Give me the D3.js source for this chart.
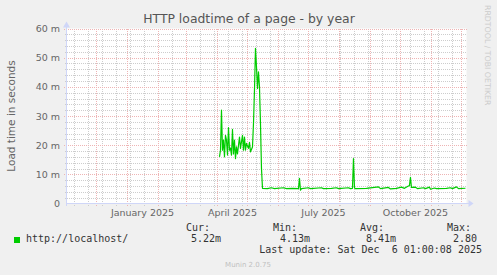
<!DOCTYPE html>
<html>
<head>
<meta charset="utf-8">
<script src="https://cdn.jsdelivr.net/npm/d3@7"></script>
<style>
  body { margin: 0; background: #f0f0f0; }
  svg { display: block; }
</style>
</head>
<body>
<div id="chart"></div>
<script>
// data (load time in milliseconds)
var pointDates = [
  "2025-04-03","2025-04-04","2025-04-05","2025-04-06","2025-04-07","2025-04-08","2025-04-09","2025-04-10",
  "2025-04-11","2025-04-12","2025-04-13","2025-04-14","2025-04-15","2025-04-16","2025-04-17","2025-04-18",
  "2025-04-19","2025-04-20","2025-04-21","2025-04-23","2025-04-24","2025-04-26","2025-04-27","2025-04-28",
  "2025-04-29","2025-04-30","2025-05-02","2025-05-03","2025-05-04","2025-05-06","2025-05-07","2025-05-08",
  "2025-05-09","2025-05-10","2025-05-11","2025-05-12","2025-05-13","2025-05-14","2025-05-15","2025-05-16",
  "2025-05-21","2025-05-25","2025-05-28","2025-06-06","2025-06-09","2025-06-15","2025-06-21","2025-06-22",
  "2025-06-23","2025-06-24","2025-07-01","2025-07-03","2025-07-14","2025-07-16","2025-07-24","2025-07-29",
  "2025-07-31","2025-08-10","2025-08-12","2025-08-14","2025-08-15","2025-08-16","2025-08-17","2025-08-28",
  "2025-09-09","2025-09-11","2025-09-19","2025-09-21","2025-09-27","2025-10-02","2025-10-05","2025-10-08",
  "2025-10-10","2025-10-11","2025-10-12","2025-10-16","2025-10-18","2025-10-24","2025-10-26","2025-10-30",
  "2025-10-31","2025-11-04","2025-11-06","2025-11-16","2025-11-20","2025-11-22","2025-11-26","2025-11-28",
  "2025-12-05"
];
var loadMs = [
  16, 18.3, 32, 18.3, 21.7, 16, 23.4, 21.7,
  16.6, 26, 18.3, 19, 16.6, 25.4, 17, 21.7,
  15.4, 19.4, 17, 22.8, 18.9, 23.4, 18.3, 22.8,
  18.3, 20.6, 18.9, 21, 17.7, 19.4, 27.4, 38.9,
  53.2, 46.9, 39.4, 45.1, 40, 27.4, 12, 5.2,
  5.1, 5.4, 5.1, 5.4, 5.1, 5.2, 5.1, 8.6,
  4.6, 5.1, 5.4, 5.1, 5.4, 5.1, 5.2, 5.4,
  5.1, 5.4, 5.1, 5.2, 15.4, 5.3, 5.1, 5.2,
  5.7, 5.1, 5.5, 5.0, 5.2, 5.6, 5.2, 5.8,
  6.2, 9.0, 5.5, 5.6, 5.1, 5.4, 5.1, 5.6,
  4.9, 5.3, 5.1, 5.2, 5.4, 5.1, 5.7, 5.1,
  5.22
];
var yTicks = [0, 10, 20, 30, 40, 50, 60];
var monthLabels = ["January 2025", "April 2025", "July 2025", "October 2025"];
var monthLabelDates = ["2025-01-16", "2025-04-16", "2025-07-16", "2025-10-16"];
var legendStats = [["Cur:", "5.22m"], ["Min:", "4.13m"], ["Avg:", "8.41m"], ["Max:", "2.80"]];

var svgWidth = 497;
var svgHeight = 275;
var plot = { left: 66.5, right: 466.5, top: 28.5, bottom: 203.5 };

var parseDate = d3.utcParse("%Y-%m-%d");
var series = pointDates.map(function(d, i) {
  return { date: parseDate(d), value: loadMs[i] };
});

var xScale = d3.scaleUtc()
  .domain([new Date(Date.UTC(2024, 10, 1)), new Date(Date.UTC(2025, 11, 6, 1))])
  .range([plot.left, plot.right]);
var yScale = d3.scaleLinear()
  .domain([0, 60])
  .range([plot.bottom, plot.top]);

var svg = d3.select("#chart").append("svg")
  .attr("width", svgWidth)
  .attr("height", svgHeight);

svg.append("rect")
  .attr("width", svgWidth).attr("height", svgHeight)
  .attr("fill", "#f0f0f0");

// canvas
svg.append("rect")
  .attr("x", plot.left).attr("y", plot.top)
  .attr("width", plot.right - plot.left).attr("height", plot.bottom - plot.top)
  .attr("fill", "#ffffff");

var gridGroup = svg.append("g").attr("shape-rendering", "crispEdges");
var minorColor = "#cdcdcd";
var majorColor = "#eeb4b4";

// minor grid
var minorY = d3.range(2, 60, 2).filter(function(v) { return v % 10 != 0; });
gridGroup.selectAll(".hminor").data(minorY).enter().append("line")
  .attr("x1", plot.left - 2).attr("x2", plot.right)
  .attr("y1", d => Math.round(yScale(d)) + 0.5).attr("y2", d => Math.round(yScale(d)) + 0.5)
  .attr("stroke", minorColor).attr("stroke-dasharray", "1,1");

var minorX = d3.range(0, 28).map(function(k) { return new Date(Date.UTC(2024, 10, 9 + 14 * k)); })
  .filter(d => xScale(d) < plot.right);
gridGroup.selectAll(".vminor").data(minorX).enter().append("line")
  .attr("x1", d => Math.round(xScale(d)) + 0.5).attr("x2", d => Math.round(xScale(d)) + 0.5)
  .attr("y1", plot.top).attr("y2", plot.bottom + 2)
  .attr("stroke", minorColor).attr("stroke-dasharray", "1,1");

// major grid
var majorX = d3.utcMonth.range(new Date(Date.UTC(2024, 11, 1)), new Date(Date.UTC(2025, 11, 6)));
gridGroup.selectAll(".vmajor").data(majorX).enter().append("line")
  .attr("x1", d => Math.round(xScale(d)) + 0.5).attr("x2", d => Math.round(xScale(d)) + 0.5)
  .attr("y1", plot.top).attr("y2", plot.bottom + 3)
  .attr("stroke", majorColor).attr("stroke-dasharray", "1,1");

gridGroup.selectAll(".hmajor").data(yTicks.slice(1)).enter().append("line")
  .attr("x1", plot.left - 3).attr("x2", plot.right)
  .attr("y1", d => Math.round(yScale(d)) + 0.5).attr("y2", d => Math.round(yScale(d)) + 0.5)
  .attr("stroke", majorColor).attr("stroke-dasharray", "1,1");

// axes
var axisColor = "#cfd6f8";
svg.append("line")
  .attr("x1", plot.left).attr("x2", plot.right + 3)
  .attr("y1", plot.bottom).attr("y2", plot.bottom)
  .attr("stroke", axisColor).attr("shape-rendering", "crispEdges");
svg.append("line")
  .attr("x1", plot.left).attr("x2", plot.left)
  .attr("y1", plot.bottom + 2).attr("y2", plot.top - 3)
  .attr("stroke", axisColor).attr("shape-rendering", "crispEdges");
svg.append("path")
  .attr("d", `M${plot.right + 2},${plot.bottom - 3.5}L${plot.right + 7},${plot.bottom}L${plot.right + 2},${plot.bottom + 3.5}Z`)
  .attr("fill", axisColor);
svg.append("path")
  .attr("d", `M${plot.left - 3.5},${plot.top - 1}L${plot.left},${plot.top - 7}L${plot.left + 3.5},${plot.top - 1}Z`)
  .attr("fill", axisColor);

// the load time line
var line = d3.line()
  .x(d => xScale(d.date))
  .y(d => yScale(d.value));
svg.append("path")
  .datum(series)
  .attr("d", line)
  .attr("fill", "none")
  .attr("stroke", "#00cc00")
  .attr("stroke-width", 1.2)
  .attr("stroke-linejoin", "round");

// tick labels
var fontColor = "#666666";
svg.selectAll(".ylab").data(yTicks).enter().append("text")
  .attr("x", 60).attr("y", d => yScale(d) + 3.5)
  .attr("text-anchor", "end")
  .attr("font-family", "DejaVu Sans").attr("font-size", "9.5px")
  .attr("fill", fontColor)
  .text(d => d == 0 ? "0" : d + " m");

svg.selectAll(".xlab").data(monthLabels).enter().append("text")
  .attr("x", (d, i) => xScale(parseDate(monthLabelDates[i])))
  .attr("y", 216)
  .attr("text-anchor", "middle")
  .attr("font-family", "DejaVu Sans").attr("font-size", "9.5px")
  .attr("fill", fontColor)
  .text(d => d);

// titles
svg.append("text")
  .attr("x", 249).attr("y", 23)
  .attr("text-anchor", "middle")
  .attr("font-family", "DejaVu Sans").attr("font-size", "12.4px")
  .attr("fill", "#555555")
  .text("HTTP loadtime of a page - by year");

svg.append("text")
  .attr("transform", "translate(15, 116) rotate(-90)")
  .attr("text-anchor", "middle")
  .attr("font-family", "DejaVu Sans").attr("font-size", "10.5px")
  .attr("fill", fontColor)
  .text("Load time in seconds");

svg.append("text")
  .attr("transform", "translate(485, 5) rotate(90)")
  .attr("text-anchor", "start")
  .attr("font-family", "DejaVu Sans").attr("font-size", "7.8px")
  .attr("fill", "#cccccc")
  .text("RRDTOOL / TOBI OETIKER");

// legend
var mono = "DejaVu Sans Mono";
svg.append("rect")
  .attr("x", 14).attr("y", 237).attr("width", 6).attr("height", 6)
  .attr("fill", "#00cc00");
svg.append("text")
  .attr("x", 26).attr("y", 242)
  .attr("font-family", mono).attr("font-size", "10px")
  .attr("fill", "#333333")
  .text("http://localhost/");

var headX = [186, 273, 360, 447];
var valueRight = [221, 310, 396, 477];
legendStats.forEach(function(s, i) {
  svg.append("text")
    .attr("x", headX[i]).attr("y", 231)
    .attr("font-family", mono).attr("font-size", "10px")
    .attr("fill", "#333333")
    .text(s[0]);
  svg.append("text")
    .attr("x", valueRight[i]).attr("y", 242)
    .attr("text-anchor", "end")
    .attr("font-family", mono).attr("font-size", "10px")
    .attr("fill", "#333333")
    .text(s[1]);
});

svg.append("text")
  .attr("x", 482).attr("y", 253)
  .attr("text-anchor", "end")
  .attr("font-family", mono).attr("font-size", "10px")
  .attr("fill", "#333333")
  .attr("xml:space", "preserve")
  .style("white-space", "pre")
  .text("Last update: Sat Dec  6 01:00:08 2025");

svg.append("text")
  .attr("x", 248).attr("y", 267)
  .attr("text-anchor", "middle")
  .attr("font-family", "DejaVu Sans").attr("font-size", "7px")
  .attr("fill", "#c0c0c0")
  .text("Munin 2.0.75");
</script>
</body>
</html>
